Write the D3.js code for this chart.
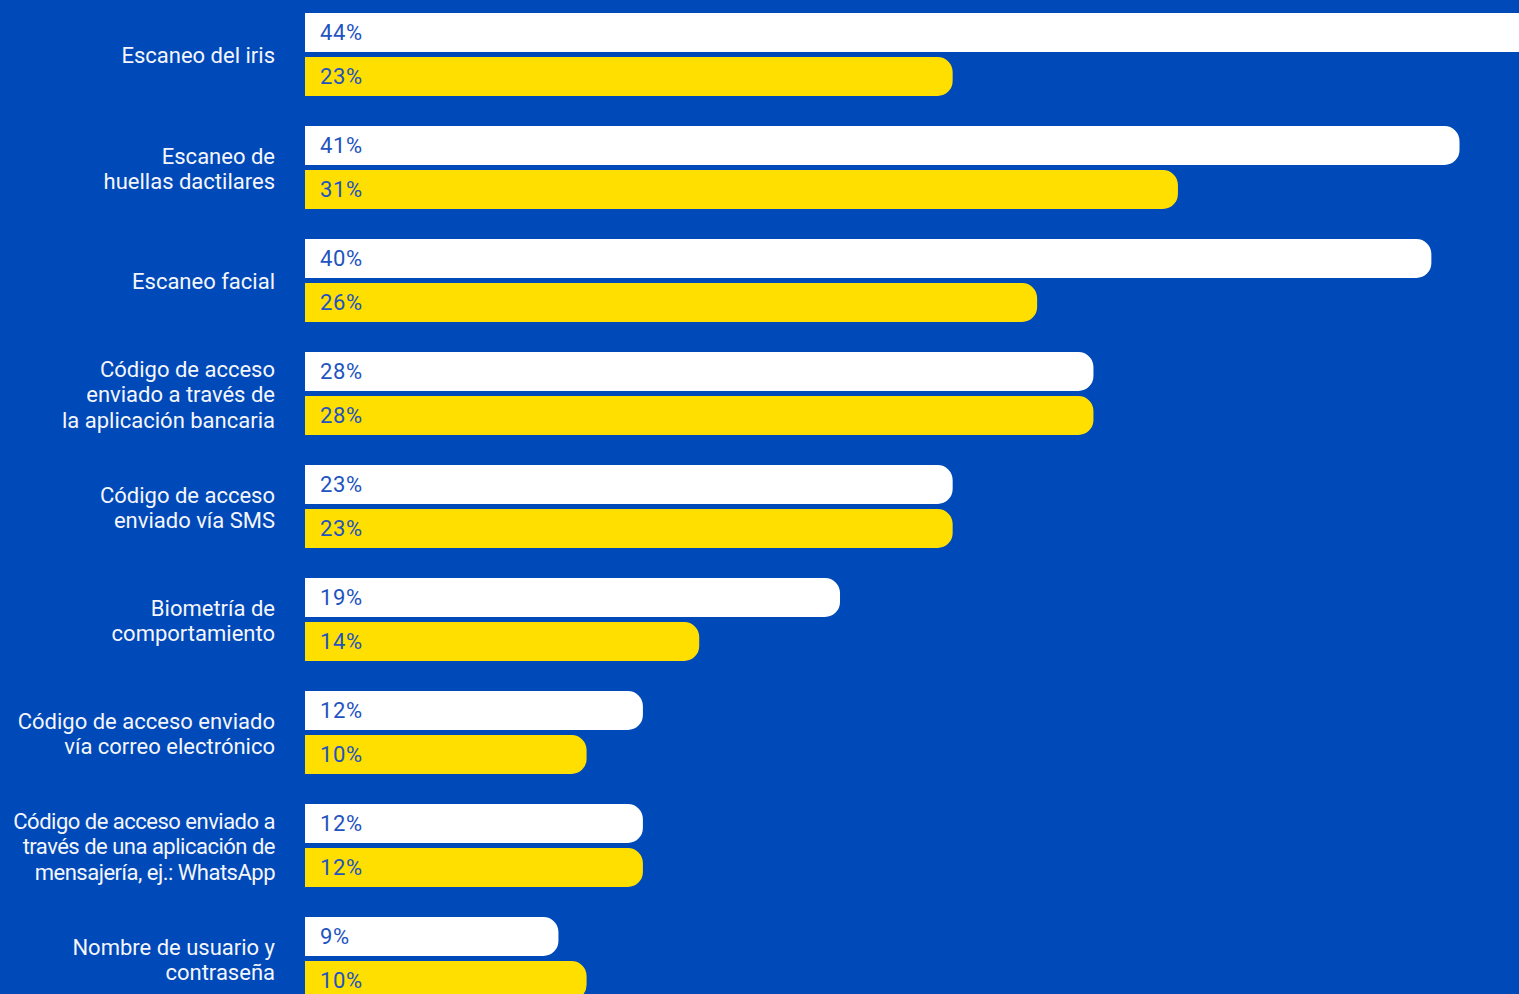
<!DOCTYPE html>
<html lang="es">
<head>
<meta charset="utf-8">
<script src="https://cdn.jsdelivr.net/npm/d3@7"></script>
<style>
  html, body { margin: 0; padding: 0; background: #0049B9; }
  svg { display: block; }
</style>
</head>
<body>
<svg id="chart" width="1519" height="994"></svg>
<script>
// Authentication methods, two series per category (percent)
const categories = [
  "Escaneo del iris",
  "Escaneo de huellas dactilares",
  "Escaneo facial",
  "Código de acceso enviado a través de la aplicación bancaria",
  "Código de acceso enviado vía SMS",
  "Biometría de comportamiento",
  "Código de acceso enviado vía correo electrónico",
  "Código de acceso enviado a través de una aplicación de mensajería, ej.: WhatsApp",
  "Nombre de usuario y contraseña"
];

// Label lines for each category
const categoryLines = [
  ["Escaneo del iris"],
  ["Escaneo de", "huellas dactilares"],
  ["Escaneo facial"],
  ["Código de acceso", "enviado a través de", "la aplicación bancaria"],
  ["Código de acceso", "enviado vía SMS"],
  ["Biometría de", "comportamiento"],
  ["Código de acceso enviado", "vía correo electrónico"],
  ["Código de acceso enviado a", "través de una aplicación de", "mensajería, ej.: WhatsApp"],
  ["Nombre de usuario y", "contraseña"]
];

const seriesKeys = ["white", "yellow"];
const whiteValues  = [44, 41, 40, 28, 23, 19, 12, 12, 9];
const yellowValues = [23, 31, 26, 28, 23, 14, 10, 12, 10];

const colors = { white: "#FFFFFF", yellow: "#FFDF00" };
const bg = "#0049B9";
const labelBlue = "#2253C0";
const labelFont = "Roboto, 'Open Sans', sans-serif";
const valueFont = "Roboto, 'Open Sans', sans-serif";

const svg = d3.select("#chart");
svg.append("rect").attr("width", 1519).attr("height", 994).attr("fill", bg);

const x = d3.scaleLinear().domain([0, 44]).range([305, 1544]);
const y = d3.scaleBand().domain(categories).range([13, 1000]).paddingInner(30 / 113).paddingOuter(0);
const ySub = d3.scaleBand().domain(seriesKeys).range([0, y.bandwidth()]).paddingInner(5 / 44);

const rows = categories.map((c, i) => ({
  category: c,
  lines: categoryLines[i],
  tight: i === 7,
  values: [
    { key: "white", value: whiteValues[i] },
    { key: "yellow", value: yellowValues[i] }
  ]
}));

// Bar with square left side and rounded right end
function barPath(x0, x1, y0, h, r) {
  r = Math.min(r, (x1 - x0), h / 2);
  return `M${x0},${y0}H${x1 - r}A${r},${r} 0 0 1 ${x1},${y0 + r}V${y0 + h - r}A${r},${r} 0 0 1 ${x1 - r},${y0 + h}H${x0}Z`;
}

const group = svg.selectAll("g.row")
  .data(rows)
  .join("g")
  .attr("class", "row")
  .attr("transform", d => `translate(0,${y(d.category)})`);

const bars = group.selectAll("g.bar")
  .data(d => d.values)
  .join("g")
  .attr("class", "bar");

bars.append("path")
  .attr("d", d => barPath(x(0), x(d.value), ySub(d.key), ySub.bandwidth(), 15))
  .attr("fill", d => colors[d.key]);

bars.append("text")
  .attr("x", x(0) + 15)
  .attr("y", d => ySub(d.key) + ySub.bandwidth() / 2)
  .attr("dy", "0.36em")
  .attr("font-family", valueFont)
  .attr("font-size", 22)
  .attr("letter-spacing", 0.6)
  .attr("fill", labelBlue)
  .text(d => `${d.value}%`);

// Category labels, right aligned and centered on the pair of bars
const lineHeight = 25.5;
group.append("text")
  .attr("text-anchor", "end")
  .attr("font-family", labelFont)
  .attr("font-size", 22)
  .attr("letter-spacing", d => d.tight ? -0.5 : 0)
  .attr("fill", "#F4F6FB")
  .each(function (d) {
    const n = d.lines.length;
    const cy = y.bandwidth() / 2 + 1;
    d3.select(this).selectAll("tspan")
      .data(d.lines)
      .join("tspan")
      .attr("x", 275)
      .attr("y", (l, j) => cy + (j - (n - 1) / 2) * lineHeight)
      .attr("dy", "0.36em")
      .text(l => l);
  });
</script>
</body>
</html>
